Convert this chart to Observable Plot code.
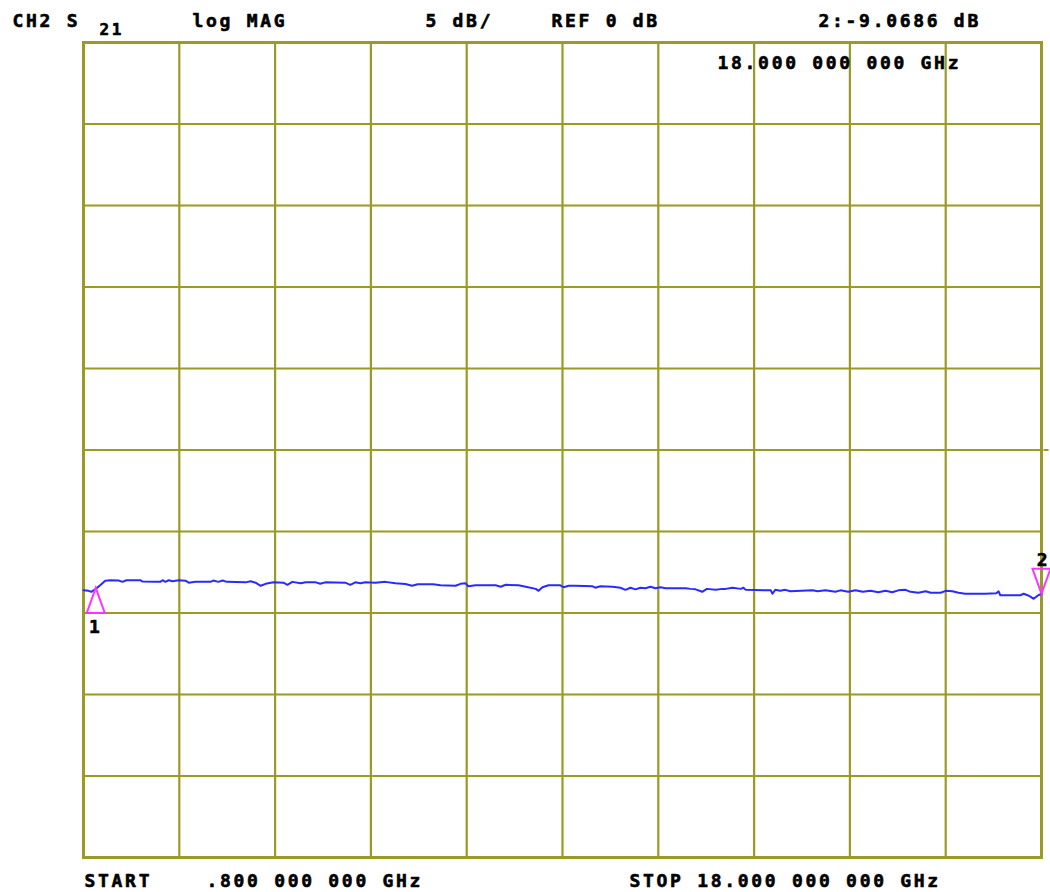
<!DOCTYPE html>
<html>
<head>
<meta charset="utf-8">
<script src="https://cdn.jsdelivr.net/npm/d3@7"></script>
<script src="https://cdn.jsdelivr.net/npm/@observablehq/plot@0.6"></script>
<style>
  html, body { margin: 0; padding: 0; background: #ffffff; }
  #chart svg { display: block; }
</style>
</head>
<body>
<div id="chart"></div>
<script>
// Trace: S21 log magnitude (dB) vs frequency (GHz)
const freqGHz = [0.80,0.89,0.94,1.02,1.11,1.19,1.28,1.43,1.50,1.57,1.82,1.86,2.09,2.18,2.22,2.27,2.33,2.40,2.51,2.63,2.69,2.81,3.08,3.13,3.22,3.30,3.37,3.71,3.80,3.89,3.98,4.07,4.21,4.39,4.46,4.55,4.70,4.79,4.97,5.05,5.14,5.50,5.59,5.68,5.77,5.86,6.04,6.22,6.40,6.58,6.70,6.80,7.08,7.21,7.48,7.57,7.66,7.71,7.84,8.20,8.29,8.38,8.61,8.74,8.92,8.97,9.04,9.15,9.36,9.42,9.51,9.63,9.94,9.99,10.08,10.30,10.44,10.53,10.62,10.71,10.80,10.89,10.98,11.07,11.16,11.25,11.61,11.70,11.79,11.91,11.99,12.15,12.27,12.33,12.45,12.60,12.65,12.69,13.14,13.17,13.22,13.31,13.40,13.49,13.89,13.98,14.12,14.30,14.39,14.53,14.66,14.79,14.93,15.07,15.20,15.32,15.43,15.56,15.65,15.79,15.92,16.01,16.19,16.28,16.40,16.51,16.63,16.81,16.99,17.19,17.23,17.26,17.53,17.62,17.68,17.75,17.80,17.86,17.93,18.00];
const s21dB = [-8.60,-8.64,-8.70,-8.52,-8.27,-8.02,-7.99,-8.01,-8.09,-7.99,-7.99,-8.07,-8.09,-8.09,-7.99,-8.09,-7.99,-8.05,-7.99,-8.02,-8.14,-8.09,-8.09,-8.01,-8.09,-8.01,-8.09,-8.12,-8.05,-8.14,-8.33,-8.21,-8.12,-8.14,-8.27,-8.09,-8.18,-8.12,-8.12,-8.21,-8.12,-8.14,-8.27,-8.12,-8.18,-8.12,-8.14,-8.09,-8.18,-8.22,-8.33,-8.24,-8.24,-8.30,-8.33,-8.21,-8.18,-8.36,-8.30,-8.30,-8.39,-8.27,-8.30,-8.39,-8.52,-8.64,-8.42,-8.30,-8.30,-8.42,-8.33,-8.33,-8.36,-8.45,-8.36,-8.39,-8.45,-8.58,-8.45,-8.55,-8.45,-8.48,-8.39,-8.48,-8.42,-8.48,-8.48,-8.52,-8.55,-8.70,-8.52,-8.58,-8.52,-8.52,-8.45,-8.52,-8.45,-8.58,-8.61,-8.82,-8.58,-8.64,-8.58,-8.67,-8.61,-8.67,-8.61,-8.70,-8.61,-8.70,-8.61,-8.70,-8.64,-8.73,-8.64,-8.73,-8.61,-8.58,-8.70,-8.76,-8.67,-8.76,-8.76,-8.64,-8.67,-8.76,-8.82,-8.82,-8.82,-8.79,-8.67,-8.91,-8.91,-8.91,-8.82,-8.91,-9.00,-9.13,-8.94,-8.82];

// Markers
const markerNames = ["1", "2"];
const markerFreq = [1.02, 18.00];
const markerdB = [-8.46, -8.82];

// Graticule (10 x 10 divisions, 5 dB/div, REF 0 dB at centre)
const xGrid = [0.8, 2.52, 4.24, 5.96, 7.68, 9.4, 11.12, 12.84, 14.56, 16.28, 18];
const yGrid = [-25, -20, -15, -10, -5, 0, 5, 10, 15, 20, 25];

// Annotation texts
const headerTexts = ["CH2 S", "21", "log MAG", "5 dB/", "REF 0 dB", "2:-9.0686 dB", "18.000 000 000 GHz"];
const footerTexts = ["START", ".800 000 000 GHz", "STOP 18.000 000 000 GHz"];

const trace = freqGHz.map((f, i) => ({f, db: s21dB[i]}));
const markers = markerNames.map((n, i) => ({n, f: markerFreq[i], db: markerdB[i]}));

const olive = "#9a9a24";
const traceBlue = "#2a2aff";
const magenta = "#ff33ff";
const font = "DejaVu Sans Mono";

const ML = 83, MT = 42, MR = 9, MB = 35, W = 1050, H = 892;

function label(text, x, y, size = 18) {
  return Plot.text([text], {
    text: d => d,
    frameAnchor: "top-left",
    dx: x - ML,
    dy: y - MT,
    textAnchor: "start",
    lineAnchor: "bottom",
    fontFamily: font,
    fontWeight: "bold",
    fontSize: size,
    fill: "#000",
    stroke: "#000",
    strokeWidth: 0.6
  });
}

const triUp = {draw(ctx) { ctx.moveTo(0, 0); ctx.lineTo(9, 25); ctx.lineTo(-9, 25); ctx.closePath(); }};
const triDown = {draw(ctx) { ctx.moveTo(0, 0); ctx.lineTo(9, -25); ctx.lineTo(-9, -25); ctx.closePath(); }};
const refTick = {draw(ctx) { ctx.moveTo(2, 0); ctx.lineTo(7, 0); }};

const headerPos = [[12, 26, 18], [99, 34, 16], [192, 26, 18], [425, 26, 18], [551, 26, 18], [818, 26, 18], [717, 68, 18]];
const footerPos = [[84, 886], [206, 886], [629, 886]];

const plot = Plot.plot({
  width: W,
  height: H,
  marginLeft: ML,
  marginTop: MT,
  marginRight: MR,
  marginBottom: MB,
  x: {domain: [0.8, 18], axis: null},
  y: {domain: [-25, 25], axis: null},
  marks: [
    Plot.ruleX(xGrid, {stroke: olive, strokeWidth: 2.2}),
    Plot.ruleY(yGrid, {stroke: olive, strokeWidth: 2.2}),
    Plot.frame({stroke: olive, strokeWidth: 3}),
    Plot.dot([{f: 18, db: 0}], {x: "f", y: "db", symbol: refTick, stroke: olive, strokeWidth: 2, fill: "none"}),
    Plot.line(trace, {x: "f", y: "db", stroke: traceBlue, strokeWidth: 2}),
    Plot.dot([markers[0]], {x: "f", y: "db", symbol: triUp, stroke: magenta, strokeWidth: 2, fill: "none"}),
    Plot.dot([markers[1]], {x: "f", y: "db", symbol: triDown, stroke: magenta, strokeWidth: 2, fill: "none"}),
    Plot.text([markers[0]], {x: "f", y: "db", text: "n", dy: 45, lineAnchor: "bottom", fontFamily: font, fontWeight: "bold", fontSize: 18, fill: "#000", stroke: "#000", strokeWidth: 0.6}),
    Plot.text([markers[1]], {x: "f", y: "db", text: "n", dy: -28, dx: 2, lineAnchor: "bottom", fontFamily: font, fontWeight: "bold", fontSize: 18, fill: "#000", stroke: "#000", strokeWidth: 0.6}),
    ...headerTexts.map((t, i) => label(t, headerPos[i][0], headerPos[i][1], headerPos[i][2])),
    ...footerTexts.map((t, i) => label(t, footerPos[i][0], footerPos[i][1]))
  ]
});
plot.style.letterSpacing = "2.7px";
plot.style.overflow = "visible";
document.getElementById("chart").appendChild(plot);
</script>
</body>
</html>
